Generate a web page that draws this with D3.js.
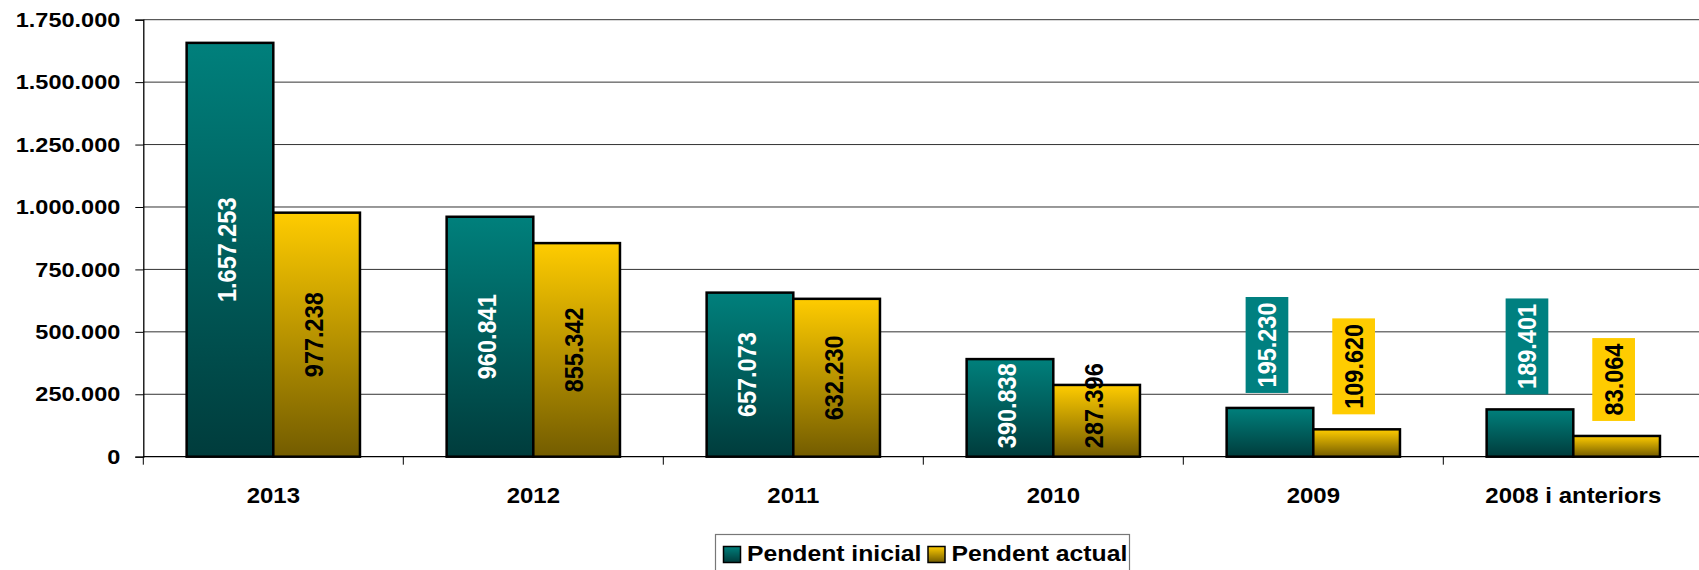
<!DOCTYPE html>
<html>
<head>
<meta charset="utf-8">
<script src="https://cdn.jsdelivr.net/npm/d3@7"></script>
<style>
  html, body { margin: 0; padding: 0; background: #fff; }
  svg { display: block; }
  text { font-family: "Liberation Sans", Arial, sans-serif; font-weight: bold; }
</style>
</head>
<body>
<svg id="chart" width="1699" height="570"></svg>
<script>
// ---- Data ----
const categories = ["2013", "2012", "2011", "2010", "2009", "2008 i anteriors"];
const seriesNames = ["Pendent inicial", "Pendent actual"];
const pendentInicial = [1657253, 960841, 657073, 390838, 195230, 189401];
const pendentActual = [977238, 855342, 632230, 287396, 109620, 83064];
const yTicks = [0, 250000, 500000, 750000, 1000000, 1250000, 1500000, 1750000];

// ---- Setup ----
(function () {
const W = 1699, H = 570;
const svg = d3.select("#chart");
const pLeft = 143.3, pRight = 1703.3, pTop = 19.7, pBottom = 456.7;
const locale = d3.formatLocale({ decimal: ",", thousands: ".", grouping: [3], currency: ["", " €"] });
const fmt = locale.format(",d");

const x0 = d3.scaleBand().domain(categories).range([pLeft, pRight]).paddingInner(0).paddingOuter(0);
const x1 = d3.scaleBand().domain(seriesNames).range([0, x0.bandwidth()]).paddingInner(0).paddingOuter(0.5);
const y = d3.scaleLinear().domain([0, 1750000]).range([pBottom, pTop]);

const palette = {
  "Pendent inicial": { top: "#00807c", bottom: "#003c3c", solid: "#008080", text: "#ffffff" },
  "Pendent actual": { top: "#ffcc00", bottom: "#735c00", solid: "#ffcc00", text: "#000000" }
};

// gradients
const defs = svg.append("defs");
seriesNames.forEach((s, i) => {
  const g = defs.append("linearGradient").attr("id", "grad" + i)
    .attr("x1", 0).attr("y1", 0).attr("x2", 0).attr("y2", 1);
  g.append("stop").attr("offset", "0%").attr("stop-color", palette[s].top);
  g.append("stop").attr("offset", "100%").attr("stop-color", palette[s].bottom);
});

// gridlines
svg.append("g").selectAll("line").data(yTicks.filter(d => d > 0)).join("line")
  .attr("x1", pLeft).attr("x2", W)
  .attr("y1", d => y(d)).attr("y2", d => y(d))
  .attr("stroke", "#333").attr("stroke-width", 1);

// y axis
const sxTick = 1.12;
const yAxis = svg.append("g").attr("transform", `translate(${pLeft},0)`)
  .call(d3.axisLeft(y).tickValues(yTicks).tickSize(8).tickPadding(15).tickFormat(fmt));
yAxis.select(".domain").attr("stroke", "#000").attr("stroke-width", 1.3);
yAxis.selectAll(".tick line").attr("stroke", "#000").attr("stroke-width", 1);
yAxis.selectAll(".tick text")
  .attr("font-size", 21).attr("fill", "#000")
  .attr("font-family", "Liberation Sans, Arial, sans-serif").attr("font-weight", "bold")
  .attr("x", -23 / sxTick)
  .attr("transform", `scale(${sxTick},1)`);

// bars
const data = categories.map((c, i) => ({ cat: c, values: [
  { series: seriesNames[0], idx: 0, value: pendentInicial[i] },
  { series: seriesNames[1], idx: 1, value: pendentActual[i] }
]}));

const groups = svg.append("g").selectAll("g").data(data).join("g")
  .attr("transform", d => `translate(${x0(d.cat)},0)`);

groups.selectAll("rect").data(d => d.values).join("rect")
  .attr("x", d => x1(d.series))
  .attr("y", d => y(d.value))
  .attr("width", x1.bandwidth())
  .attr("height", d => y(0) - y(d.value))
  .attr("fill", d => `url(#grad${d.idx})`)
  .attr("stroke", "#000").attr("stroke-width", 2.5);

// x axis line
svg.append("line").attr("x1", pLeft).attr("x2", W).attr("y1", pBottom).attr("y2", pBottom)
  .attr("stroke", "#000").attr("stroke-width", 1.3);
// category boundary ticks
const boundaries = categories.map(c => x0(c)).concat([x0(categories[categories.length - 1]) + x0.step()]);
svg.append("g").selectAll("line").data(boundaries).join("line")
  .attr("x1", d => d).attr("x2", d => d)
  .attr("y1", pBottom).attr("y2", pBottom + 8)
  .attr("stroke", "#000").attr("stroke-width", 1);

// category labels
const sxCat = 1.09;
svg.append("g").selectAll("text").data(categories).join("text")
  .attr("transform", d => `translate(${x0(d) + x0.bandwidth() / 2},502.5) scale(${sxCat},1)`)
  .attr("text-anchor", "middle").attr("font-size", 22).attr("fill", "#000")
  .text(d => d);

// data labels
const sxLab = 1.12;
const labFont = 23.5;
const labelLayer = svg.append("g");
data.forEach(d => {
  d.values.forEach(v => {
    const cx = x0(d.cat) + x1(v.series) + x1.bandwidth() / 2 - 3;
    const yTop = y(v.value);
    const barH = y(0) - yTop;
    const g = labelLayer.append("g");
    const t = g.append("text")
      .attr("text-anchor", "middle")
      .attr("dy", "0.36em")
      .attr("font-size", labFont)
      .attr("fill", palette[v.series].text)
      .text(fmt(v.value));
    const len = t.node().getComputedTextLength();
    let cy;
    if (barH < 60) {
      const boxH = len + 11;
      const boxBottom = yTop - 15;
      cy = boxBottom - boxH / 2;
      const boxW = 42.7;
      g.insert("rect", "text")
        .attr("x", cx - boxW / 2).attr("y", boxBottom - boxH)
        .attr("width", boxW).attr("height", boxH)
        .attr("fill", palette[v.series].solid);
    } else {
      cy = Math.min((yTop + y(0)) / 2, y(0) - 8.5 - len / 2);
    }
    t.attr("transform", `translate(${cx},${cy}) scale(${sxLab},1) rotate(-90)`);
  });
});

// legend
const legend = svg.append("g");
legend.append("rect").attr("x", 715.5).attr("y", 534.5).attr("width", 414).attr("height", 50)
  .attr("fill", "#fff").attr("stroke", "#777").attr("stroke-width", 1.2);
const legX = [723.5, 928];
const sxLeg = 1.15;
seriesNames.forEach((s, i) => {
  legend.append("rect").attr("x", legX[i]).attr("y", 546.5).attr("width", 17).attr("height", 16)
    .attr("fill", `url(#grad${i})`).attr("stroke", "#000").attr("stroke-width", 1.5);
  legend.append("text")
    .attr("transform", `translate(${legX[i] + 23.5},561) scale(${sxLeg},1)`)
    .attr("font-size", 21.5).attr("fill", "#000")
    .text(s);
});
})();
</script>
</body>
</html>
